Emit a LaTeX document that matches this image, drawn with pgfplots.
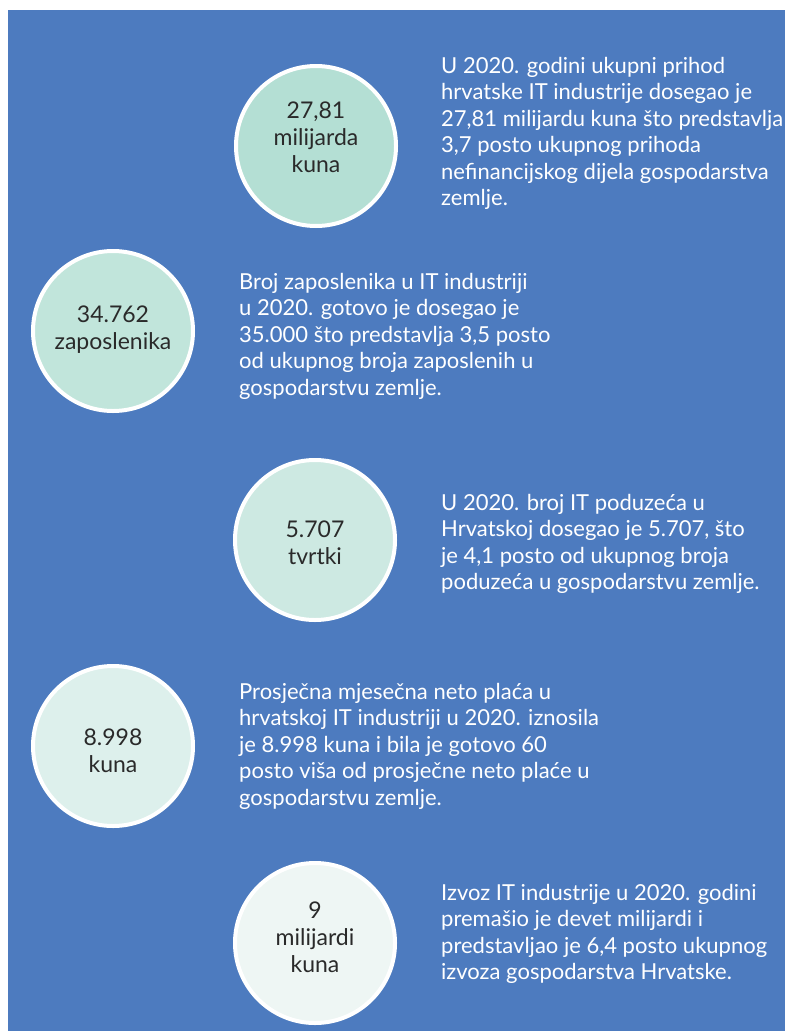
\documentclass[border=0pt]{standalone}
\usepackage{fontspec}
\setmainfont{Lato}
\usepackage{pgfplots}
\pgfplotsset{compat=1.18}

\definecolor{bg}{HTML}{4D7BBF}
\definecolor{c1}{HTML}{B4DFD4}
\definecolor{c2}{HTML}{C1E5DB}
\definecolor{c3}{HTML}{CDE9E2}
\definecolor{c4}{HTML}{DDF0EC}
\definecolor{c5}{HTML}{EEF6F4}
\definecolor{ink}{HTML}{2A2A2A}

\tikzset{para/.style={anchor=north west, align=left, inner sep=0pt, overlay,
    text=white, font={\fontsize{22bp}{26.5bp}\selectfont}}}

\begin{document}
\begin{tikzpicture}
\begin{axis}[
    width=784bp, height=1031bp,
    scale only axis,
    xmin=0, xmax=784,
    ymin=0, ymax=1031,
    enlargelimits=false,
    y dir=reverse,
    hide axis,
    clip=false,
    point meta=explicit symbolic,
    every node near coord/.append style={anchor=center, align=center, text=ink,
        font={\fontsize{23bp}{27bp}\selectfont}},
    bubble/.style 2 args={only marks, mark=*, mark size=80bp,
        mark options={draw=white, line width=4bp, fill=#1},
        nodes near coords,
        every node near coord/.append style={yshift=#2}},
]
\coordinate (LL) at (axis cs:0,1031);
\coordinate (UR) at (axis cs:784,0);
% background panel (runs past the page edge on the right and bottom)
\addplot[fill=bg, draw=none] coordinates {(8,10) (800,10) (800,1050) (8,1050) (8,10)};

% circles
\addplot[bubble={c1}{9bp}] coordinates {(316,146) [{27,81\\milijarda\\kuna}]};
\addplot[bubble={c2}{1bp}] coordinates {(113,331) [{34.762\\zaposlenika}]};
\addplot[bubble={c3}{-3bp}] coordinates {(315,540) [{5.707\\tvrtki}]};
\addplot[bubble={c4}{-5bp}] coordinates {(113,746) [{8.998\\kuna}]};
\addplot[bubble={c5}{6bp}] coordinates {(315,943) [{9\\milijardi\\kuna}]};

% texts
\node[para] at (axis cs:441,57) {U 2020. godini ukupni prihod\\hrvatske IT industrije dosegao je\\27,81 milijardu kuna što predstavlja\\3,7 posto ukupnog prihoda\\nefinancijskog dijela gospodarstva\\zemlje.};
\node[para] at (axis cs:239,273) {Broj zaposlenika u IT industriji\\u 2020. gotovo je dosegao je\\35.000 što predstavlja 3,5 posto\\od ukupnog broja zaposlenih u\\gospodarstvu zemlje.};
\node[para] at (axis cs:441,494) {U 2020. broj IT poduzeća u\\Hrvatskoj dosegao je 5.707, što\\je 4,1 posto od ukupnog broja\\poduzeća u gospodarstvu zemlje.};
\node[para] at (axis cs:239,683) {Prosječna mjesečna neto plaća u\\hrvatskoj IT industriji u 2020. iznosila\\je 8.998 kuna i bila je gotovo 60\\posto viša od prosječne neto plaće u\\gospodarstvu zemlje.};
\node[para] at (axis cs:441,884) {Izvoz IT industrije u 2020. godini\\premašio je devet milijardi i\\predstavljao je 6,4 posto ukupnog\\izvoza gospodarstva Hrvatske.};
\end{axis}
\pgfresetboundingbox
\useasboundingbox (LL) rectangle (UR);
\end{tikzpicture}
\end{document}
